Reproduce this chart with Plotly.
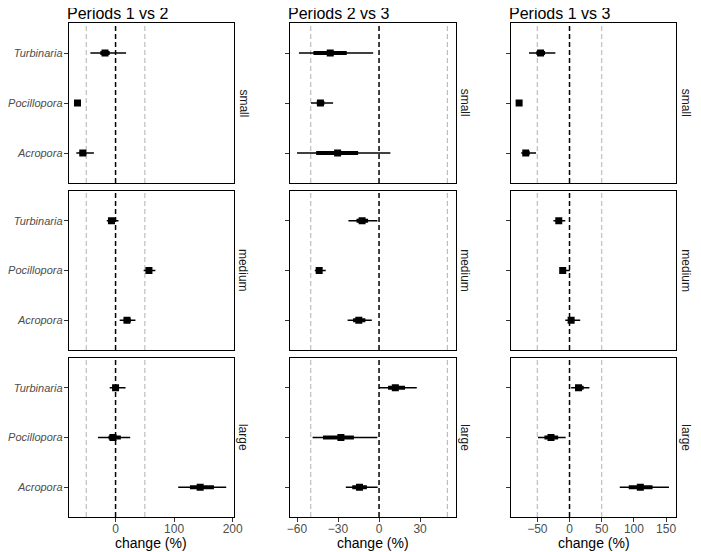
import plotly.graph_objects as go
from plotly.subplots import make_subplots

species = ["Turbinaria", "Pocillopora", "Acropora"]
sizes = ["small", "medium", "large"]
comparisons = ["Periods 1 vs 2", "Periods 2 vs 3", "Periods 1 vs 3"]

# values per size class (rows: small, medium, large), species order as above
est_p12 = [[-18, -65, -56], [-7, 57, 19.5], [0, -4.5, 144.5]]
lo95_p12 = [[-43, -69, -67], [-15, 48, 7], [-10, -30, 107]]
hi95_p12 = [[18, -61, -37], [5, 68, 34], [17, 25, 189]]
lo66_p12 = [[-26, -67, -61], [-10, 53, 14], [-4, -12, 127]]
hi66_p12 = [[-10, -63, -50], [-3, 61, 26], [5, 9, 168]]

est_p23 = [[-35.7, -42.9, -30.3], [-12.4, -43.8, -14.8], [11.9, -27.9, -14.3]]
lo95_p23 = [[-58.6, -49.8, -60], [-22.4, -47, -23], [0, -48.6, -24.3]]
hi95_p23 = [[-4.3, -33.6, 8.3], [-1.2, -39, -5.3], [27.6, -1.2, -1]]
lo66_p23 = [[-48, -45.5, -46], [-16.5, -45.5, -19], [6.6, -41, -19.6]]
hi66_p23 = [[-23.6, -40, -15.3], [-8, -42, -10], [19, -18.4, -8.9]]

est_p13 = [[-45, -78.3, -68], [-16.7, -10.6, 2.5], [14, -28.8, 110]]
lo95_p13 = [[-63, -81, -75], [-25, -14.7, -6.6], [2.5, -49, 78]]
hi95_p13 = [[-22, -76, -52], [-6.6, 0.5, 16.6], [30.8, -6, 154.5]]
lo66_p13 = [[-51.5, -80, -72], [-20, -13, -2], [9, -39, 92]]
hi66_p13 = [[-38, -77, -62], [-13, -7, 7], [22, -17.7, 129]]

x_ranges = [[-80, 202], [-65.5, 56], [-90.5, 166]]
x_ticks = [[0, 100, 200], [-60, -30, 0, 30], [-50, 0, 50, 100, 150]]
ref_lines = [-50, 50]

# the page puts the figure 8 px in from the top-left corner
OFF = 8
W, H = 701 - OFF, 552 - OFF
col_px = [(63, 232), (289, 459), (516, 685)]
row_px = [(23, 183), (191, 350), (358, 517)]


def fx(p):
    return (p - OFF) / W


def fy(p):
    return 1 - (p - OFF) / H


data = [
    (est_p12, lo95_p12, hi95_p12, lo66_p12, hi66_p12),
    (est_p23, lo95_p23, hi95_p23, lo66_p23, hi66_p23),
    (est_p13, lo95_p13, hi95_p13, lo66_p13, hi66_p13),
]

FONT = "Liberation Sans, Arial, sans-serif"

fig = make_subplots(rows=3, cols=3)

for c in range(3):
    est, lo95, hi95, lo66, hi66 = data[c]
    for r in range(3):
        xs95, ys95, xs66, ys66 = [], [], [], []
        for i, sp in enumerate(species):
            xs95 += [lo95[r][i], hi95[r][i], None]
            ys95 += [sp, sp, None]
            xs66 += [lo66[r][i], hi66[r][i], None]
            ys66 += [sp, sp, None]
        fig.add_trace(go.Scatter(x=xs95, y=ys95, mode="lines",
                                 line=dict(color="black", width=1.5),
                                 showlegend=False, hoverinfo="skip"),
                      row=r + 1, col=c + 1)
        fig.add_trace(go.Scatter(x=xs66, y=ys66, mode="lines",
                                 line=dict(color="black", width=4),
                                 showlegend=False, hoverinfo="skip"),
                      row=r + 1, col=c + 1)
        fig.add_trace(go.Scatter(x=est[r], y=species, mode="markers",
                                 marker=dict(symbol="square", size=7, color="black"),
                                 showlegend=False),
                      row=r + 1, col=c + 1)

        n = r * 3 + c + 1
        sfx = "" if n == 1 else str(n)
        x0, x1 = col_px[c]
        y0, y1 = row_px[r]
        bottom = r == 2
        fig.layout["xaxis" + sfx].update(
            domain=[fx(x0), fx(x1)], range=x_ranges[c],
            tickvals=x_ticks[c], showticklabels=bottom,
            ticks="outside" if bottom else "", ticklen=4, tickcolor="#333333",
            ticklabelstandoff=-3,
            showline=True, mirror=True, linecolor="black", linewidth=1,
            showgrid=False, zeroline=False,
            tickfont=dict(family=FONT, size=12, color="#4D4D4D"),
        )
        fig.layout["yaxis" + sfx].update(
            domain=[fy(y1), fy(y0)], type="category",
            categoryorder="array", categoryarray=species[::-1],
            range=[-0.6, 2.6], showticklabels=(c == 0),
            ticks="outside", ticklen=4, tickcolor="#333333",
            ticklabelstandoff=-1,
            showline=True, mirror=True, linecolor="black", linewidth=1,
            showgrid=False, zeroline=False,
            tickfont=dict(family=FONT, size=11, color="#4D4D4D", style="italic"),
        )
        xref = "x" + sfx
        yref = "y" + sfx + " domain"
        for v in ref_lines:
            fig.add_shape(type="line", xref=xref, yref=yref, x0=v, x1=v, y0=0, y1=1,
                          line=dict(color="#BEBEBE", width=1.2, dash="5px,3px"), layer="below")
        fig.add_shape(type="line", xref=xref, yref=yref, x0=0, x1=0, y0=0, y1=1,
                      line=dict(color="black", width=1.5, dash="5px,3px"), layer="below")

        # strip labels on the right
        fig.add_annotation(text=sizes[r], xref="paper", yref="paper",
                           x=fx(x1 + 10), y=fy((y0 + y1) / 2),
                           xanchor="center", yanchor="middle",
                           textangle=90, showarrow=False,
                           font=dict(family=FONT, size=12, color="#1A1A1A"))

    x0, x1 = col_px[c]
    fig.add_annotation(text=comparisons[c], xref="paper", yref="paper",
                       x=fx(x0 - 3), y=fy(4), xanchor="left", yanchor="top",
                       borderpad=0, showarrow=False,
                       font=dict(family=FONT, size=16, color="black"))
    fig.add_annotation(text="change (%)", xref="paper", yref="paper",
                       x=fx((x0 + x1) / 2), y=fy(543), xanchor="center", yanchor="middle",
                       showarrow=False, font=dict(family=FONT, size=14, color="black"))

fig.update_layout(
    width=W, height=H,
    margin=dict(l=0, r=0, t=0, b=0),
    paper_bgcolor="white", plot_bgcolor="white",
    font=dict(family=FONT),
)

fig.write_html("out.html")
